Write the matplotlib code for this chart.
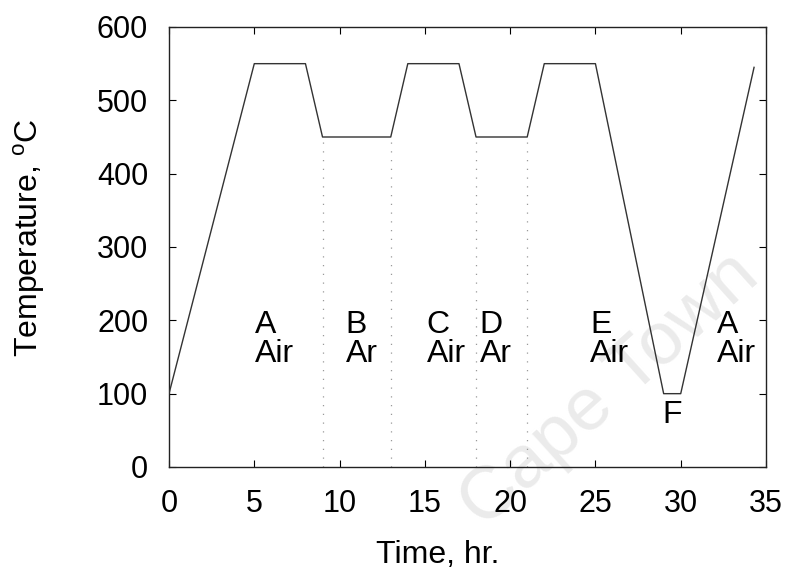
import matplotlib
matplotlib.use("Agg")
import matplotlib.pyplot as plt

plt.rcParams["font.family"] = ["Liberation Sans", "DejaVu Sans"]
plt.rcParams["mathtext.fontset"] = "custom"
plt.rcParams["mathtext.rm"] = "Liberation Sans"

# temperature profile (hr, degC)
time_hr = [0, 5, 8, 9, 13, 14, 17, 18, 21, 22, 25, 29, 30, 34.3]
temp_c = [100, 550, 550, 450, 450, 550, 550, 450, 450, 550, 550, 100, 100, 545]

# dotted markers where gas is switched
switch_hr = [9, 13, 18, 21]
switch_top = [450, 450, 450, 450]

# stage labels: x position, letter, atmosphere
stage_x = [5.05, 10.35, 15.1, 18.2, 24.7, 32.1]
stage_letter = ["A", "B", "C", "D", "E", "A"]
stage_gas = ["Air", "Ar", "Air", "Ar", "Air", "Air"]

fig = plt.figure(figsize=(7.91, 5.70), dpi=100)
ax = fig.add_axes([169 / 791, 1 - 467 / 570, 597 / 791, 440 / 570])

ax.plot(time_hr, temp_c, color="#333333", lw=1.0, zorder=3)
for x, top in zip(switch_hr, switch_top):
    ax.plot([x, x], [0, top], color="#999999", lw=0.9, ls=(0, (1, 6)), zorder=2)

for x, let, gas in zip(stage_x, stage_letter, stage_gas):
    ax.text(x, 183, let, fontsize=23, ha="left", va="baseline")
    ax.text(x, 143, gas, fontsize=23, ha="left", va="baseline")
ax.text(28.9, 60, "F", fontsize=23, ha="left", va="baseline")

ax.set_xlim(0, 35)
ax.set_ylim(0, 600)
ax.set_xticks(range(0, 36, 5))
ax.set_yticks(range(0, 601, 100))
ax.tick_params(direction="in", length=5, width=0.8, labelsize=22,
               top=True, right=True)
ax.tick_params(axis="x", pad=16)
ax.tick_params(axis="y", pad=15)
for s in ax.spines.values():
    s.set_linewidth(1.0)
    s.set_color("#222222")

ax.set_xlabel("Time, hr.", fontsize=23)
ax.xaxis.set_label_coords(0.45, -0.165)
ax.set_ylabel("Temperature, $^{\\mathrm{o}}$C", fontsize=23)
ax.yaxis.set_label_coords(-0.205, 0.52)

# faint scan watermark
ax.text(610 / 791, 1 - 390 / 570, "Cape Town", transform=fig.transFigure,
        fontsize=54, rotation=42, color="#ebebeb", ha="center", va="center",
        zorder=0, clip_on=False)

fig.savefig("out.png", dpi=100)
